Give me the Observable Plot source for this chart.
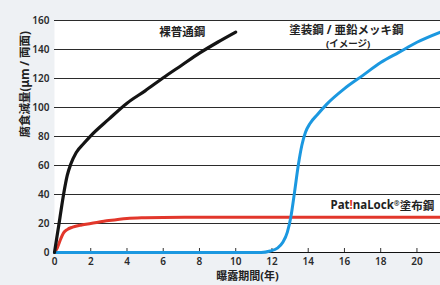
<!DOCTYPE html>
<html>
<head>
<meta charset="utf-8">
<script src="https://cdn.jsdelivr.net/npm/d3@7"></script>
<script src="https://cdn.jsdelivr.net/npm/@observablehq/plot@0.6"></script>
<style>
  html, body { margin: 0; padding: 0; background: #eef1f4; }
  #chart { width: 440px; height: 285px; }
</style>
</head>
<body>
<div id="chart"></div>
<script>
// ---- data ----
const bareYears   = [0, 0.15, 0.3, 0.5, 0.7, 0.9, 1.2, 1.6, 2, 3, 4, 5, 6, 7, 8, 9, 10];
const bareLoss    = [0, 12, 24, 40, 53, 61, 69, 75, 80.5, 92, 103, 111.5, 120.5, 129, 137.5, 145, 152];
const paintYears  = [0, 11.4, 11.9, 12.3, 12.6, 12.85, 13.05, 13.25, 13.45, 13.65, 13.85, 14.1, 14.5, 15, 16, 17, 18, 19, 20, 21.3];
const paintLoss   = [0, 0, 1, 3, 7, 14, 25, 42, 60, 74, 83, 89, 95, 102, 113, 122, 131, 138, 145, 152];
const patinaYears = [0, 0.15, 0.3, 0.5, 0.7, 1, 1.5, 2, 3, 4, 5, 6, 8, 21.3];
const patinaLoss  = [0, 3, 8, 13.5, 15.8, 17.5, 19, 20, 22, 23.5, 24, 24.2, 24.3, 24.3];
const yTicks = [0, 20, 40, 60, 80, 100, 120, 140, 160];
const xTicks = [0, 2, 4, 6, 8, 10, 12, 14, 16, 18, 20];
const seriesNames = ["裸普通鋼", "塗装鋼 / 亜鉛メッキ鋼", "(イメージ)", "Pat!naLock®塗布鋼"];
const xTitle = "曝露期間(年)";
const yTitle = "腐食減量(μm / 両面)";

const toRows = (xs, ys) => xs.map((x, i) => ({x, y: ys[i]}));
const bare = toRows(bareYears, bareLoss);
const paint = toRows(paintYears, paintLoss);
const patina = toRows(patinaYears, patinaLoss);

const jp = "'Noto Sans', 'Noto Sans CJK JP', sans-serif";

const chart = Plot.plot({
  width: 440,
  height: 285,
  marginLeft: 54,
  marginRight: 0,
  marginTop: 20,
  marginBottom: 33,
  style: { background: "transparent", fontFamily: jp, overflow: "visible" },
  x: { domain: [0, 21.3] },
  y: { domain: [0, 160] },
  marks: [
    Plot.frame({ fill: "white", stroke: "none" }),
    Plot.ruleY(yTicks.filter(d => d > 0), { stroke: "#2b2b2b", strokeWidth: 1.1 }),
    Plot.ruleY([0], { stroke: "#111", strokeWidth: 1.2 }),
    Plot.ruleX(xTicks.filter(d => d > 0), { y1: 0, y2: 0, insetTop: -4, stroke: "#333", strokeWidth: 1 }),
    Plot.axisY({ ticks: yTicks, tickSize: 0, tickPadding: 5, label: null,
      fontSize: 10, fontWeight: 600, fill: "#2a2a2a", fontFamily: "'Noto Sans', sans-serif" }),
    Plot.axisX({ ticks: xTicks, tickSize: 0, tickPadding: 5, label: null,
      fontSize: 10, fontWeight: 600, fill: "#2a2a2a", fontFamily: "'Noto Sans', sans-serif" }),
    Plot.line(patina, { x: "x", y: "y", stroke: "#e2372b", strokeWidth: 3, curve: "monotone-x" }),
    Plot.line(paint, { x: "x", y: "y", stroke: "#1b98e0", strokeWidth: 3, curve: "monotone-x" }),
    Plot.line(bare, { x: "x", y: "y", stroke: "#141414", strokeWidth: 3.2, curve: "monotone-x" }),
    Plot.text([seriesNames[0]], { x: 7.05, y: 151.8, text: d => d, fontSize: 11.5, fontWeight: 700, fill: "#222" }),
    Plot.text([seriesNames[1]], { x: 16.1, y: 153.4, text: d => d, fontSize: 11.5, fontWeight: 700, fill: "#222" }),
    Plot.text([seriesNames[2]], { x: 16.2, y: 143.6, text: d => d, fontSize: 9.5, fontWeight: 700, fill: "#222" }),
    Plot.text([seriesNames[3]], { x: 20.95, y: 32.4, text: d => d, textAnchor: "end", fontSize: 11.5, fontWeight: 700, fill: "#222" }),
    Plot.text([xTitle], { frameAnchor: "bottom", dy: 27, text: d => d, fontSize: 11, fontWeight: 700, fill: "#222" }),
    Plot.text([yTitle], { frameAnchor: "left", dx: -29, dy: 1, rotate: -90, text: d => d, fontSize: 11.5, fontWeight: 700, fill: "#222" })
  ]
});

document.getElementById("chart").appendChild(chart);

d3.select(chart).selectAll("text").each(function () {
  const t = this.textContent;
  const sel = d3.select(this);
  if (t === seriesNames[3]) {
    // red "!" and small superscript ®
    const i = t.indexOf("!");
    const j = t.indexOf("®");
    sel.text(null);
    sel.append("tspan").text(t.slice(0, i));
    sel.append("tspan").attr("fill", "#e2372b").text("!");
    sel.append("tspan").text(t.slice(i + 1, j));
    sel.append("tspan").attr("font-size", 7).attr("dy", "-0.45em").text("®");
    sel.append("tspan").attr("dy", "0.3em").text(t.slice(j + 1));
  } else if (t === yTitle) {
    // keep the vertical title within the length it has in the reference
    const L = this.getComputedTextLength();
    if (L > 112) sel.attr("font-size", (11.5 * 110 / L).toFixed(2));
  }
});
</script>
</body>
</html>
